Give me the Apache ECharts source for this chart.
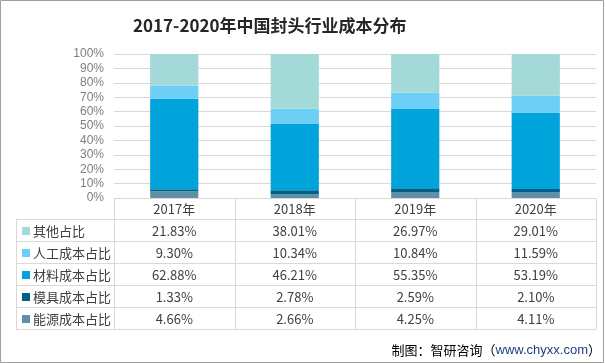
<!DOCTYPE html>
<html><head><meta charset="utf-8">
<script src="https://cdn.jsdelivr.net/npm/echarts@6/dist/echarts.min.js"></script>
<style>html,body{margin:0;padding:0;background:#fff}#c{width:605px;height:364px}</style>
</head><body><div id="c"></div>
<script>
const categories = ['2017年', '2018年', '2019年', '2020年'];
const seriesNames = ['其他占比', '人工成本占比', '材料成本占比', '模具成本占比', '能源成本占比'];
const other = [21.83, 38.01, 26.97, 29.01];
const labor = [9.30, 10.34, 10.84, 11.59];
const material = [62.88, 46.21, 55.35, 53.19];
const mold = [1.33, 2.78, 2.59, 2.10];
const energy = [4.66, 2.66, 4.25, 4.11];
const yTicks = [0, 10, 20, 30, 40, 50, 60, 70, 80, 90, 100];
const colors = ['#A3D9D6', '#6DCFF6', '#00A3DA', '#005E87', '#5D91A8'];

const tableRows = [other, labor, material, mold, energy];
const gridL = 114, gridR = 596, gridT = 54, gridB = 198;
const colW = (gridR - gridL) / categories.length;
const tLeft = 16, rowH = 22, hdrH = 21;
const lineC = '#D9D9D9', txtC = '#404040';

const g = [];
g.push({type:'rect', shape:{x:0.5,y:0.5,width:603,height:362}, style:{fill:'none', stroke:'#A0A0A0', lineWidth:1}, silent:true});
const tBottom = gridB + hdrH + rowH * seriesNames.length;
const hLine = (x1, x2, y) => g.push({type:'line', shape:{x1, y1:y+0.5, x2, y2:y+0.5}, style:{stroke:lineC, lineWidth:1}, silent:true});
const vLine = (x, y1, y2) => g.push({type:'line', shape:{x1:x+0.5, y1, x2:x+0.5, y2}, style:{stroke:lineC, lineWidth:1}, silent:true});
for (let r = 0; r <= seriesNames.length; r++) hLine(tLeft, gridR, gridB + hdrH + r * rowH);
vLine(tLeft, gridB + hdrH, tBottom);
for (let c = 0; c <= categories.length; c++) vLine(Math.round(gridL + c * colW), gridB, tBottom);
categories.forEach((cat, c) => {
  g.push({type:'text', x: gridL + (c + 0.5) * colW, y: gridB + hdrH / 2 + 1, style:{text:cat, fill:txtC, font:'13px "Noto Sans CJK SC", sans-serif', textAlign:'center', textVerticalAlign:'middle'}, silent:true});
});
seriesNames.forEach((name, r) => {
  const cy = gridB + hdrH + r * rowH + rowH / 2 + 1;
  g.push({type:'rect', shape:{x:22, y:cy-4, width:8, height:8}, style:{fill:colors[r]}, silent:true});
  g.push({type:'text', x:33, y:cy, style:{text:name, fill:txtC, font:'13px "Noto Sans CJK SC", sans-serif', textVerticalAlign:'middle'}, silent:true});
  tableRows[r].forEach((v, c) => {
    g.push({type:'text', x: gridL + (c + 0.5) * colW, y: cy, style:{text:v.toFixed(2) + '%', fill:txtC, font:'13px "Noto Sans CJK SC", sans-serif', textAlign:'center', textVerticalAlign:'middle'}, silent:true});
  });
});
g.push({type:'text', right:4, top:344, style:{rich:{a:{fill:'#000', font:'13px "Noto Sans CJK SC", sans-serif'}, b:{fill:'#1F3F7F', font:'13px "Liberation Sans", sans-serif'}}, text:'{a|制图：智研咨询（}{b|www.chyxx.com}{a|）}'}, silent:true});

const stackData = [energy, mold, material, labor, other];
const stackIdx = [4, 3, 2, 1, 0];
const series = stackData.map((d, i) => ({
  name: seriesNames[stackIdx[i]], type:'bar', stack:'s', barWidth: '40%',
  itemStyle:{color: colors[stackIdx[i]]}, data: d, silent:true
}));

const chart = echarts.init(document.getElementById('c'), null, {renderer:'canvas'});
chart.setOption({
  animation:false,
  backgroundColor:'#fff',
  title:{text:'2017-2020年中国封头行业成本分布', left:128, top:12, textStyle:{fontSize:17, fontWeight:'bold', color:'#262626', fontFamily:'"Noto Sans CJK SC", sans-serif'}},
  grid:{left:gridL, top:gridT, width:gridR-gridL, height:gridB-gridT, containLabel:false},
  xAxis:{type:'category', data:categories, axisLine:{show:true, lineStyle:{color:lineC}}, axisTick:{show:false}, axisLabel:{show:false}},
  yAxis:{type:'value', min:yTicks[0], max:yTicks[yTicks.length-1], interval:10, axisLine:{show:false}, axisTick:{show:false},
    axisLabel:{formatter:'{value}%', color:'#7F7F7F', fontSize:12, fontFamily:'"Liberation Sans", sans-serif', margin:10},
    splitLine:{lineStyle:{color:lineC}}},
  series,
  graphic: g
});
</script></body></html>
